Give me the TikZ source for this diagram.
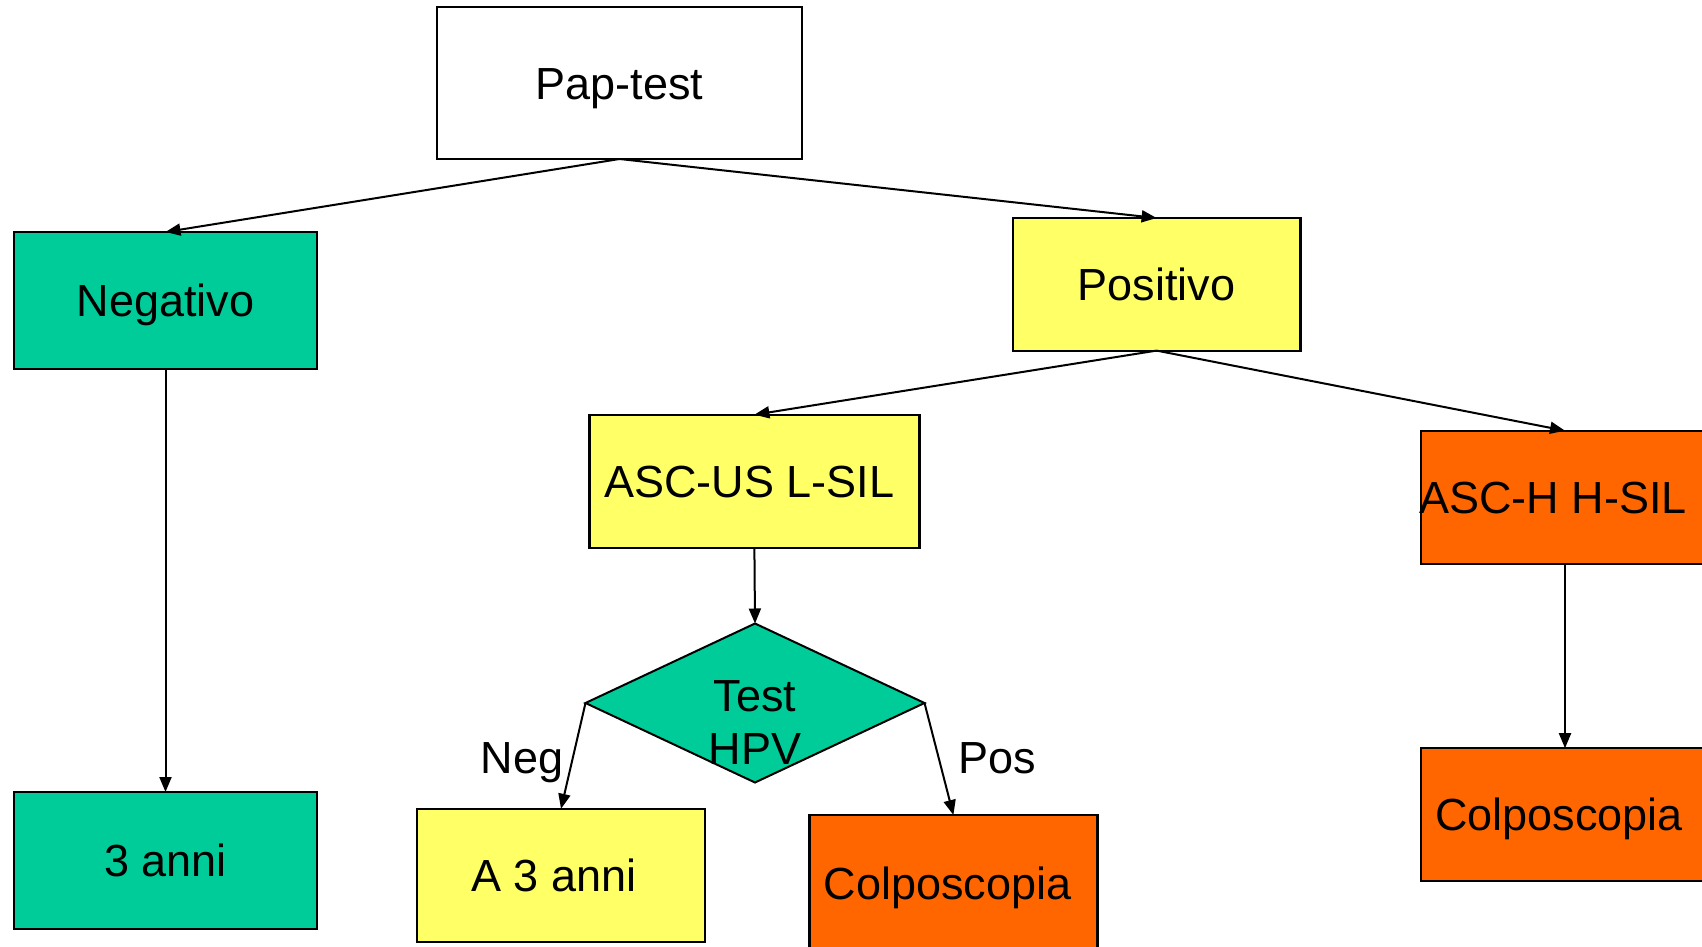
\documentclass[tikz,border=0pt]{standalone}
\usepackage{fontspec}
\setmainfont{Liberation Sans}
\usetikzlibrary{shapes.geometric,arrows.meta}
\definecolor{tealg}{RGB}{0,204,153}
\definecolor{yell}{RGB}{255,255,102}
\definecolor{orng}{RGB}{255,102,0}
\tikzset{
  box/.style={draw=black, line width=1.1pt, rectangle, inner sep=0pt, outer sep=0pt,
    text height=16.1pt, text depth=0pt,
    font=\fontsize{22.5}{26.5}\selectfont},
  dia/.style={draw=black, line width=1pt, diamond, inner sep=0pt, outer sep=0pt,
    fill=tealg, minimum width=169.5pt, minimum height=79.5pt},
  lbl/.style={inner sep=0pt, font=\fontsize{22.5}{26.5}\selectfont},
  slbl/.style={lbl, text height=16.1pt, text depth=0pt},
  conn/.style={line width=1pt, -{Triangle[length=7.5pt,width=6pt]}}
}
\begin{document}
\begin{tikzpicture}[x=0.5pt,y=-0.5pt]
\useasboundingbox (0,0) rectangle (1702,947);
\node[box, fill=white, minimum width=182.5pt, minimum height=76pt] (pap) at (619.5,83) {Pap-test};
\node[box, fill=tealg, minimum width=151.5pt, minimum height=68.5pt] (neg) at (165.5,300.5) {Negativo};
\node[box, fill=tealg, minimum width=151.5pt, minimum height=68.5pt] (tre) at (165.5,860.5) {3 anni};
\node[box, fill=yell, minimum width=143.8pt, minimum height=66.3pt] (pos) at (1156.6,284.3) {Positivo};
\node[box, fill=yell, minimum width=165pt, minimum height=66.8pt] (ascus) at (754.4,481.5) {\hspace*{-5pt}ASC-US L-SIL};
\node[box, fill=orng, minimum width=144pt, minimum height=66.5pt] (asch) at (1565,497.2) {\hspace*{-12pt}ASC-H H-SIL};
\node[box, fill=orng, minimum width=144pt, minimum height=66.5pt] (colpr) at (1565,814.7) {\hspace*{-6pt}Colposcopia};
\node[dia] (hpv) at (755,703) {};
\node[lbl, align=center] (hpvtxt) at (755,723) {Test\\HPV};
\node[box, fill=yell, minimum width=144pt, minimum height=66.7pt] (atre) at (561,875.5) {\hspace*{-7pt}A 3 anni};
\node[box, fill=orng, minimum width=144pt, minimum height=68pt] (colpm) at (953.4,883) {\hspace*{-6pt}Colposcopia};
\node[slbl] (negl) at (522,757) {Neg};
\node[slbl] (posl) at (997,757) {Pos};
\draw[conn] (pap.south) -- (neg.north);
\draw[conn] (pap.south) -- (pos.north);
\draw[conn] (pos.south) -- (ascus.north);
\draw[conn] (pos.south) -- (asch.north);
\draw[conn] (neg.south) -- (tre.north);
\draw[conn] (ascus.south) -- (hpv.north);
\draw[conn] (asch.south) -- (colpr.north);
\draw[conn] (hpv.west) -- (atre.north);
\draw[conn] (hpv.east) -- (colpm.north);
\end{tikzpicture}
\end{document}
